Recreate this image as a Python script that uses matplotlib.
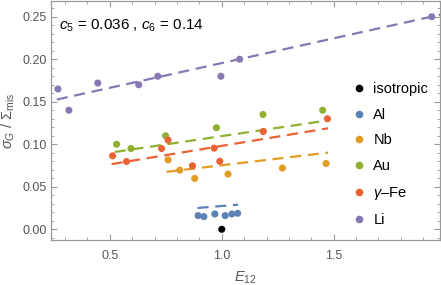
import matplotlib
matplotlib.use("Agg")
import matplotlib.pyplot as plt
from matplotlib.ticker import MultipleLocator
from matplotlib.lines import Line2D
import numpy as np

plt.rcParams['font.family'] = ['Liberation Sans', 'DejaVu Sans']
plt.rcParams['mathtext.fontset'] = 'custom'
plt.rcParams['mathtext.rm'] = 'Liberation Sans'
plt.rcParams['mathtext.it'] = 'Liberation Sans:italic'

# ---- data ----
series_names = ["isotropic", "Al", "Nb", "Au", r"$\gamma$–Fe", "Li"]
series_colors = ["#000000", "#5E81B5", "#E19C24", "#8FB032", "#EB6235", "#8778B3"]

iso_x = [1.0]
iso_y = [0.0]

al_x = [0.894, 0.920, 0.969, 1.015, 1.045, 1.071]
al_y = [0.0161, 0.0149, 0.0180, 0.0161, 0.0180, 0.0188]

nb_x = [0.760, 0.8125, 0.879, 1.028, 1.271, 1.466]
nb_y = [0.0817, 0.0696, 0.0598, 0.0649, 0.0720, 0.0774]

au_x = [0.530, 0.594, 0.749, 0.976, 1.184, 1.451]
au_y = [0.100, 0.095, 0.110, 0.1195, 0.135, 0.140]

fe_x = [0.512, 0.5745, 0.731, 0.760, 0.869, 0.966, 0.991, 1.185, 1.472]
fe_y = [0.0864, 0.0797, 0.095, 0.105, 0.0747, 0.0954, 0.080, 0.115, 0.130]

li_x = [0.268, 0.317, 0.446, 0.629, 0.714, 0.996, 1.080, 1.938]
li_y = [0.165, 0.140, 0.172, 0.170, 0.180, 0.180, 0.200, 0.250]

# fitted lines (slope, intercept, x-range) for Al, Nb, Au, γ-Fe, Li
line_slope = [0.0215, 0.0313, 0.039, 0.0436, 0.0582]
line_icpt = [0.0059, 0.0440, 0.0706, 0.0545, 0.1373]
line_xmin = [0.8915, 0.753, 0.522, 0.5076, 0.263]
line_xmax = [1.073, 1.4746, 1.467, 1.4746, 2.0]

annotation = r"$c_5$ = 0.036 , $c_6$ = 0.14"

# ---- figure ----
fig = plt.figure(figsize=(4.41, 2.85), dpi=100)
ax = fig.add_axes([51/441, 1-240/285, 389/441, 239/285])

frame_col = "#9a9a9a"
text_col = "#555555"

xs = [iso_x, al_x, nb_x, au_x, fe_x, li_x]
ys = [iso_y, al_y, nb_y, au_y, fe_y, li_y]

for i in range(5):
    lx = np.linspace(line_xmin[i], line_xmax[i], 50)
    ax.plot(lx, line_slope[i]*lx + line_icpt[i], color=series_colors[i+1],
            lw=1.6, dashes=(5, 3), zorder=2)

for x, y, c in zip(xs, ys, series_colors):
    ax.scatter(x, y, s=26, color=c, edgecolors='none', zorder=3)

ax.set_xlim(0.237, 1.975)
ax.set_ylim(-0.0126, 0.2685)

ax.xaxis.set_major_locator(MultipleLocator(0.5))
ax.xaxis.set_minor_locator(MultipleLocator(0.1))
ax.yaxis.set_major_locator(MultipleLocator(0.05))
ax.yaxis.set_minor_locator(MultipleLocator(0.01))
ax.xaxis.set_major_formatter(plt.FuncFormatter(lambda v, p: f"{v:.1f}"))
ax.yaxis.set_major_formatter(plt.FuncFormatter(lambda v, p: f"{v:.2f}"))

ax.tick_params(which='both', direction='in', top=True, right=True,
               color=frame_col, labelcolor=text_col, labelsize=9)
ax.tick_params(which='major', length=4.5, width=0.8)
ax.tick_params(which='minor', length=2.5, width=0.6)
ax.tick_params(axis='x', pad=7)
ax.tick_params(axis='y', pad=3)
for s in ax.spines.values():
    s.set_color(frame_col)
    s.set_linewidth(0.9)

ax.set_xlabel(r"$E_{12}$", color=text_col, fontsize=10.5, labelpad=6)
ax.set_ylabel(r"$\sigma_G\ /\ \Sigma_{\rm mis}$", color=text_col, fontsize=10.5, labelpad=4)

ax.text(59/441, 1-26/285, annotation, transform=fig.transFigure,
        fontsize=11, color="black", va='center', ha='left')

handles = [Line2D([], [], ls='none', marker='o', markersize=5.5,
                  markerfacecolor=c, markeredgecolor='none') for c in series_colors]
leg = ax.legend(handles, series_names, loc='upper left',
                bbox_to_anchor=(353/441, 1-82/285), bbox_transform=fig.transFigure,
                frameon=False, fontsize=10.5, handlelength=0.8, handletextpad=0.6,
                labelspacing=0.80, borderpad=0, borderaxespad=0)

fig.savefig("out.png", dpi=100)
